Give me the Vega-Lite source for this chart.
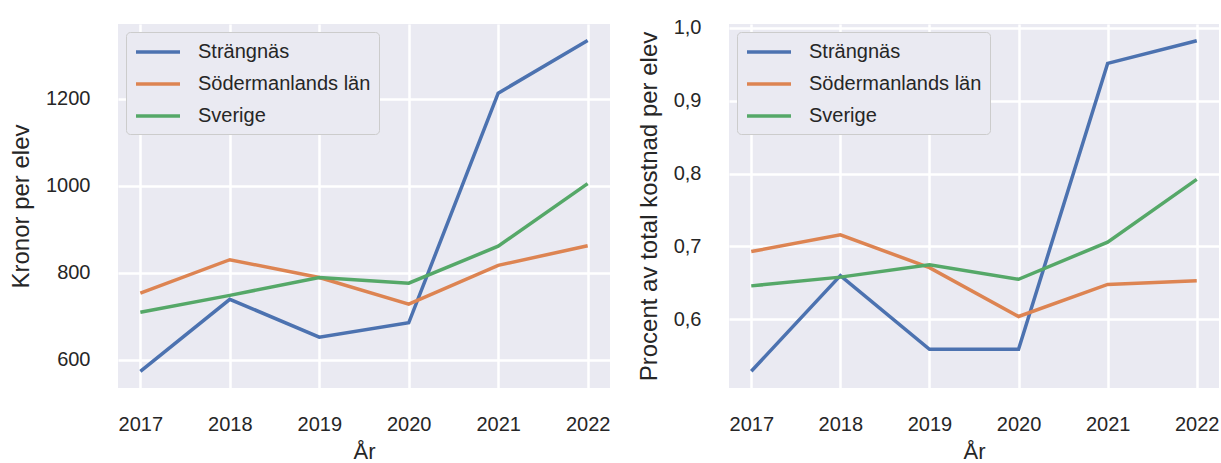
{
  "$schema": "https://vega.github.io/schema/vega-lite/v6.json",
  "padding": {"left": 9, "top": 17, "right": 2, "bottom": 0},
  "background": "white",
  "datasets": {
    "d": [
      {"year": 2017, "region": "Strängnäs", "kronor": 573, "procent": 0.529},
      {"year": 2018, "region": "Strängnäs", "kronor": 739, "procent": 0.660},
      {"year": 2019, "region": "Strängnäs", "kronor": 652, "procent": 0.559},
      {"year": 2020, "region": "Strängnäs", "kronor": 685, "procent": 0.559},
      {"year": 2021, "region": "Strängnäs", "kronor": 1213, "procent": 0.951},
      {"year": 2022, "region": "Strängnäs", "kronor": 1334, "procent": 0.982},
      {"year": 2017, "region": "Södermanlands län", "kronor": 753, "procent": 0.693},
      {"year": 2018, "region": "Södermanlands län", "kronor": 830, "procent": 0.716},
      {"year": 2019, "region": "Södermanlands län", "kronor": 789, "procent": 0.671},
      {"year": 2020, "region": "Södermanlands län", "kronor": 728, "procent": 0.604},
      {"year": 2021, "region": "Södermanlands län", "kronor": 817, "procent": 0.648},
      {"year": 2022, "region": "Södermanlands län", "kronor": 862, "procent": 0.653},
      {"year": 2017, "region": "Sverige", "kronor": 709, "procent": 0.646},
      {"year": 2018, "region": "Sverige", "kronor": 748, "procent": 0.658},
      {"year": 2019, "region": "Sverige", "kronor": 789, "procent": 0.675},
      {"year": 2020, "region": "Sverige", "kronor": 776, "procent": 0.655},
      {"year": 2021, "region": "Sverige", "kronor": 861, "procent": 0.706},
      {"year": 2022, "region": "Sverige", "kronor": 1005, "procent": 0.792}
    ]
  },
  "config": {
    "font": "Liberation Sans",
    "view": {"fill": "#EAEAF2", "stroke": null},
    "axis": {
      "domain": false,
      "ticks": false,
      "grid": true,
      "gridColor": "#FFFFFF",
      "gridWidth": 2.5,
      "labelFontSize": 20,
      "titleFontSize": 22,
      "labelColor": "#262626",
      "titleColor": "#262626",
      "titleFontWeight": "normal",
      "labelFont": "Liberation Sans",
      "titleFont": "Liberation Sans"
    },
    "axisX": {"labelPadding": 26, "titlePadding": 7},
    "axisY": {"labelPadding": 28, "titlePadding": 12, "titleFontSize": 24},
    "legend": {
      "orient": "top-left",
      "offset": 8,
      "direction": "vertical",
      "fillColor": "#EAEAF2",
      "strokeColor": "#CCCCCC",
      "cornerRadius": 4,
      "padding": 8,
      "labelFontSize": 20,
      "labelFont": "Liberation Sans",
      "labelColor": "#262626",
      "labelLimit": 400,
      "symbolType": "M-1,0H3.4",
      "symbolSize": 400,
      "symbolStrokeWidth": 3.5,
      "labelOffset": 40,
      "rowPadding": 10,
      "title": null
    }
  },
  "resolve": {
    "scale": {"color": "independent", "x": "independent", "y": "independent"},
    "legend": {"color": "independent"},
    "axis": {"x": "independent", "y": "independent"}
  },
  "spacing": 27,
  "hconcat": [
    {
      "width": 492,
      "height": 364,
      "data": {"name": "d"},
      "mark": {"type": "line", "strokeWidth": 3.5},
      "encoding": {
        "x": {
          "field": "year", "type": "quantitative", "title": "År",
          "scale": {"domain": [2016.75, 2022.25], "nice": false, "zero": false},
          "axis": {"values": [2017, 2018, 2019, 2020, 2021, 2022], "format": "d"}
        },
        "y": {
          "field": "kronor", "type": "quantitative", "title": "Kronor per elev",
          "scale": {"domain": [535, 1372], "nice": false, "zero": false},
          "axis": {"values": [600, 800, 1000, 1200], "format": "d"}
        },
        "color": {
          "field": "region", "type": "nominal",
          "scale": {"domain": ["Strängnäs", "Södermanlands län", "Sverige"], "range": ["#4C72B0", "#DD8452", "#55A868"]},
          "legend": {"title": null}
        }
      }
    },
    {
      "width": 490,
      "height": 364,
      "data": {"name": "d"},
      "mark": {"type": "line", "strokeWidth": 3.5},
      "encoding": {
        "x": {
          "field": "year", "type": "quantitative", "title": "År",
          "scale": {"domain": [2016.75, 2022.25], "nice": false, "zero": false},
          "axis": {"values": [2017, 2018, 2019, 2020, 2021, 2022], "format": "d"}
        },
        "y": {
          "field": "procent", "type": "quantitative", "title": "Procent av total kostnad per elev",
          "scale": {"domain": [0.506, 1.005], "nice": false, "zero": false},
          "axis": {"values": [0.6, 0.7, 0.8, 0.9, 1.0], "labelExpr": "replace(format(datum.value, '.1f'), '.', ',')"}
        },
        "color": {
          "field": "region", "type": "nominal",
          "scale": {"domain": ["Strängnäs", "Södermanlands län", "Sverige"], "range": ["#4C72B0", "#DD8452", "#55A868"]},
          "legend": {"title": null}
        }
      }
    }
  ]
}
